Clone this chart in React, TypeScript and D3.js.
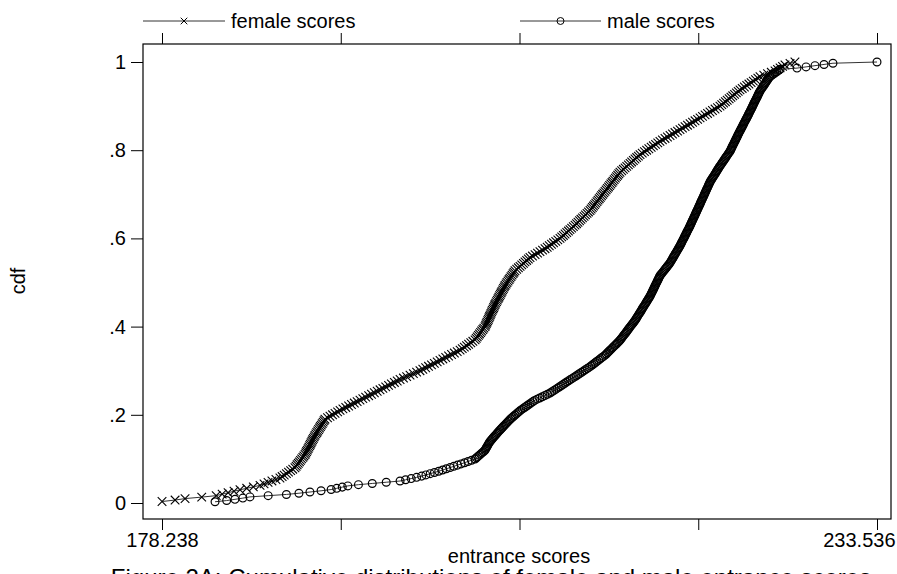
import { useEffect, useRef } from 'react';
import * as d3 from 'd3';

// sorted entrance scores
const femaleScores = [
  178.24, 179.25, 180.02, 181.31, 182.43, 182.89, 183.35, 183.81, 184.27,
  184.79, 185.30, 185.82,
  186.13, 186.44, 186.74, 187.05, 187.36,
  187.53, 187.69, 187.86, 188.02, 188.19, 188.35, 188.52,
  188.61, 188.69, 188.78, 188.87, 188.95, 189.04, 189.13, 189.21, 189.30,
  189.36, 189.42, 189.48, 189.54, 189.60, 189.66, 189.71, 189.77, 189.83, 189.89, 189.95, 190.01, 190.07,
  190.14, 190.21, 190.28, 190.35, 190.42, 190.49, 190.56, 190.63, 190.70, 190.77, 190.84,
  191.04, 191.23, 191.43, 191.62, 191.82, 192.01,
  192.23, 192.45, 192.67, 192.89, 193.11, 193.33, 193.55,
  193.77, 193.99, 194.22, 194.44, 194.66, 194.88, 195.10,
  195.32, 195.54, 195.76, 195.98, 196.21, 196.43, 196.65,
  196.91, 197.16, 197.42, 197.68, 197.93, 198.19,
  198.41, 198.63, 198.85, 199.08, 199.30, 199.52, 199.74,
  199.96, 200.18, 200.40, 200.63, 200.85, 201.07, 201.29,
  201.46, 201.62, 201.79, 201.95, 202.12, 202.28, 202.45,
  202.54, 202.62, 202.71, 202.79, 202.88, 202.96, 203.05, 203.13, 203.22,
  203.27, 203.32, 203.37, 203.43, 203.48, 203.53, 203.58, 203.63, 203.68, 203.73, 203.78, 203.84, 203.89, 203.94, 203.99,
  204.05, 204.11, 204.17, 204.23, 204.29, 204.35, 204.41, 204.47, 204.53, 204.59, 204.65, 204.71, 204.77,
  204.85, 204.92, 205.00, 205.08, 205.15, 205.23, 205.31, 205.39, 205.46, 205.54,
  205.67, 205.80, 205.93, 206.06, 206.19, 206.31, 206.44, 206.57, 206.70,
  206.89, 207.09, 207.28, 207.47, 207.67, 207.86,
  208.03, 208.19, 208.36, 208.52, 208.69, 208.85, 209.02,
  209.15, 209.28, 209.41, 209.54, 209.67, 209.79, 209.92, 210.05, 210.18,
  210.30, 210.41, 210.53, 210.64, 210.76, 210.88, 210.99, 211.11, 211.22, 211.34,
  211.43, 211.52, 211.61, 211.70, 211.79, 211.88, 211.96, 212.05, 212.14, 212.23, 212.32, 212.41, 212.50,
  212.59, 212.68, 212.77, 212.86, 212.95, 213.04, 213.12, 213.21, 213.30, 213.39, 213.48, 213.57, 213.66,
  213.79, 213.92, 214.05, 214.18, 214.31, 214.44, 214.56, 214.69, 214.82, 214.95, 215.08, 215.21,
  215.38, 215.55, 215.72, 215.89, 216.07, 216.24, 216.41, 216.58, 216.75,
  216.94, 217.14, 217.33, 217.53, 217.72, 217.91, 218.11, 218.30,
  218.49, 218.69, 218.88, 219.08, 219.27, 219.46, 219.66, 219.85,
  220.04, 220.24, 220.43, 220.62, 220.81, 221.01, 221.20, 221.39,
  221.53, 221.67, 221.81, 221.95, 222.10, 222.24, 222.38, 222.52, 222.66, 222.80, 222.94,
  223.11, 223.28, 223.46, 223.63, 223.80, 223.97, 224.14, 224.32, 224.49,
  224.78, 225.07, 225.36, 225.65,
  225.84, 226.04, 226.23, 226.42,
  226.81, 227.19
];

const maleScores = [
  182.34, 183.24, 183.88, 184.49, 185.04, 186.45, 187.86,
  188.83, 189.68, 190.54,
  191.32, 191.75, 192.18, 192.61,
  193.43, 194.50, 195.58, 196.65,
  197.08, 197.51, 197.93,
  198.32, 198.65, 198.98, 199.31, 199.64,
  199.94, 200.23, 200.52, 200.80, 201.09,
  201.37, 201.64, 201.91, 202.18, 202.45,
  202.56, 202.66, 202.77, 202.88, 202.98, 203.09, 203.20,
  203.26, 203.31, 203.37, 203.42, 203.47, 203.53, 203.58,
  203.66, 203.74, 203.82, 203.90, 203.99, 204.07, 204.15, 204.23, 204.31,
  204.40, 204.49, 204.58, 204.67, 204.76, 204.85, 204.94, 205.03, 205.12,
  205.21, 205.32, 205.43, 205.54, 205.65, 205.76, 205.87,
  205.98, 206.12, 206.25, 206.39, 206.52, 206.66, 206.79, 206.93, 207.06,
  207.25, 207.45, 207.65, 207.85, 208.05, 208.25,
  208.39, 208.54, 208.68, 208.82, 208.96, 209.11, 209.25, 209.39, 209.53, 209.68,
  209.82, 209.97, 210.11, 210.26, 210.40, 210.54, 210.69, 210.83, 210.97, 211.12, 211.26,
  211.39, 211.51, 211.64, 211.76, 211.88, 212.01, 212.13, 212.25, 212.38, 212.50,
  212.60, 212.69, 212.79, 212.88, 212.98, 213.07, 213.17, 213.26, 213.36, 213.45, 213.55, 213.64,
  213.72, 213.79, 213.86, 213.93, 214.00, 214.08, 214.15, 214.22, 214.29, 214.36, 214.43, 214.50, 214.58, 214.65, 214.72, 214.79,
  214.86, 214.92, 214.97, 215.03, 215.09, 215.15, 215.21, 215.27, 215.33, 215.38, 215.44, 215.50, 215.56, 215.62, 215.68, 215.73, 215.79, 215.85, 215.91, 215.97,
  216.02, 216.06, 216.11, 216.15, 216.20, 216.25, 216.29, 216.34, 216.38, 216.43, 216.47, 216.52, 216.56, 216.61, 216.66, 216.70, 216.75,
  216.82, 216.90, 216.97, 217.05, 217.12, 217.19, 217.27, 217.34, 217.42, 217.49,
  217.55, 217.61, 217.66, 217.72, 217.77, 217.83, 217.88, 217.94, 217.99, 218.05, 218.10, 218.16, 218.21, 218.27,
  218.32, 218.37, 218.42, 218.46, 218.51, 218.56, 218.61, 218.65, 218.70, 218.75, 218.80, 218.84, 218.89, 218.94, 218.99, 219.03,
  219.08, 219.12, 219.17, 219.21, 219.25, 219.30, 219.34, 219.38, 219.43, 219.47, 219.51, 219.56, 219.60, 219.64, 219.69, 219.73, 219.77, 219.82,
  219.86, 219.90, 219.94, 219.99, 220.03, 220.07, 220.12, 220.16, 220.20, 220.24, 220.29, 220.33, 220.37, 220.42, 220.46, 220.50, 220.54, 220.59,
  220.63, 220.69, 220.75, 220.81, 220.87, 220.93, 220.99, 221.05, 221.10, 221.16, 221.22, 221.28, 221.34,
  221.40, 221.47, 221.53, 221.59, 221.66, 221.72, 221.79, 221.85, 221.91, 221.98, 222.04, 222.11, 222.17,
  222.22, 222.26, 222.31, 222.35, 222.40, 222.45, 222.49, 222.54, 222.59, 222.63, 222.68, 222.73, 222.77, 222.82, 222.86, 222.91,
  222.96, 223.01, 223.06, 223.11, 223.16, 223.21, 223.25, 223.30, 223.35, 223.40, 223.45, 223.50, 223.55, 223.60, 223.64, 223.69,
  223.74, 223.78, 223.83, 223.88, 223.92, 223.97, 224.01, 224.06, 224.11, 224.15, 224.20, 224.25, 224.29, 224.34, 224.38, 224.43, 224.48,
  224.53, 224.60, 224.66, 224.73, 224.79, 224.86, 224.92, 224.98, 225.05, 225.11, 225.18, 225.24,
  225.37, 225.50, 225.64, 225.77, 225.91,
  226.04, 227.35, 228.05, 228.74, 229.44, 230.13, 233.536
];

const xDomain = [178.238, 233.536];
const xTicks = [178.238, 192.063, 205.887, 219.712, 233.536];
const xTickLabels = ['178.238', '', '', '', '233.536'];
const yTicks = [0, 0.2, 0.4, 0.6, 0.8, 1];
const yTickLabels = ['0', '.2', '.4', '.6', '.8', '1'];
const seriesNames = ['female scores', 'male scores'];

const FONT = "'Liberation Sans', Arial, Helvetica, sans-serif";

export default function App() {
  const svgRef = useRef<SVGSVGElement>(null);

  useEffect(() => {
    const svg = d3.select(svgRef.current);
    svg.selectAll('*').remove();

    const width = 897;
    const height = 574;
    const box = { left: 143, top: 44, right: 891, bottom: 519 };

    svg.attr('width', width).attr('height', height);

    const x = d3.scaleLinear().domain(xDomain).range([162, 877]);
    const y = d3.scaleLinear().domain([0, 1]).range([503, 62]);

    const toCdf = (scores: number[]) => {
      const s = scores.slice().sort((a, b) => a - b);
      return s.map((v, i) => ({ score: v, cdf: (i + 1) / s.length }));
    };
    const female = toCdf(femaleScores);
    const male = toCdf(maleScores);

    // plot region frame
    svg.append('rect')
      .attr('x', box.left)
      .attr('y', box.top)
      .attr('width', box.right - box.left)
      .attr('height', box.bottom - box.top)
      .attr('fill', 'white')
      .attr('stroke', '#000')
      .attr('stroke-width', 1.2);

    const styleAxis = (g: any) => {
      g.select('.domain').remove();
      g.selectAll('line').attr('stroke', '#000').attr('stroke-width', 1);
      g.selectAll('text')
        .attr('fill', '#000')
        .style('font-family', FONT)
        .style('font-size', '20px');
    };

    const bottomAxis = svg.append('g')
      .attr('transform', `translate(0,${box.bottom})`)
      .call(d3.axisBottom(x).tickValues(xTicks).tickSize(11).tickPadding(3)
        .tickFormat((d, i) => xTickLabels[i]))
      .call(styleAxis);
    // last label is pulled in so it stays inside the image
    bottomAxis.selectAll('.tick:last-of-type text')
      .attr('text-anchor', 'end')
      .attr('x', 895 - x(xTicks[xTicks.length - 1]));

    svg.append('g')
      .attr('transform', `translate(0,${box.top})`)
      .call(d3.axisTop(x).tickValues(xTicks).tickSize(11).tickFormat(() => ''))
      .call(styleAxis);

    svg.append('g')
      .attr('transform', `translate(${box.left},0)`)
      .call(d3.axisLeft(y).tickValues(yTicks).tickSize(12).tickPadding(5)
        .tickFormat((d, i) => yTickLabels[i]))
      .call(styleAxis);

    // axis titles
    svg.append('text')
      .attr('x', 519)
      .attr('y', 563)
      .attr('text-anchor', 'middle')
      .style('font-family', FONT)
      .style('font-size', '20px')
      .text('entrance scores');

    svg.append('text')
      .attr('transform', 'translate(25,281) rotate(-90)')
      .attr('text-anchor', 'middle')
      .style('font-family', FONT)
      .style('font-size', '20px')
      .text('cdf');

    const line = d3.line<any>().x(d => x(d.score)).y(d => y(d.cdf));
    const timesPath = d3.symbol().type(d3.symbolTimes).size(50)();
    const circlePath = d3.symbol().type(d3.symbolCircle).size(48)();
    const legendTimes = d3.symbol().type(d3.symbolTimes).size(30)();
    const legendCircle = d3.symbol().type(d3.symbolCircle).size(38)();

    const plot = svg.append('g');

    plot.append('path')
      .datum(female)
      .attr('d', line)
      .attr('fill', 'none')
      .attr('stroke', '#333')
      .attr('stroke-width', 1);
    plot.selectAll('.fem')
      .data(female)
      .join('path')
      .attr('class', 'fem')
      .attr('transform', d => `translate(${x(d.score)},${y(d.cdf)})`)
      .attr('d', timesPath)
      .attr('fill', 'none')
      .attr('stroke', '#000')
      .attr('stroke-width', 1.1);

    plot.append('path')
      .datum(male)
      .attr('d', line)
      .attr('fill', 'none')
      .attr('stroke', '#333')
      .attr('stroke-width', 1);
    plot.selectAll('.mal')
      .data(male)
      .join('path')
      .attr('class', 'mal')
      .attr('transform', d => `translate(${x(d.score)},${y(d.cdf)})`)
      .attr('d', circlePath)
      .attr('fill', 'none')
      .attr('stroke', '#000')
      .attr('stroke-width', 1.2);

    // legend above the plot
    const legend = [
      { x0: 143, x1: 225, text: seriesNames[0], symbol: legendTimes, tx: 231 },
      { x0: 520, x1: 601, text: seriesNames[1], symbol: legendCircle, tx: 607 }
    ];
    legend.forEach(l => {
      svg.append('line')
        .attr('x1', l.x0).attr('x2', l.x1)
        .attr('y1', 21).attr('y2', 21)
        .attr('stroke', '#333')
        .attr('stroke-width', 1);
      svg.append('path')
        .attr('transform', `translate(${(l.x0 + l.x1) / 2},21)`)
        .attr('d', l.symbol)
        .attr('fill', 'none')
        .attr('stroke', '#000');
      svg.append('text')
        .attr('x', l.tx)
        .attr('y', 28)
        .style('font-family', FONT)
        .style('font-size', '20px')
        .text(l.text);
    });

    // figure caption, cut by the bottom of the image as in the source
    svg.append('text')
      .attr('x', 491)
      .attr('y', 586)
      .attr('text-anchor', 'middle')
      .style('font-family', FONT)
      .style('font-size', '24px')
      .text('Figure 2A: Cumulative distributions of female and male entrance scores');
  }, []);

  return (
    <svg ref={svgRef} style={{ position: 'absolute', left: 0, top: 0, display: 'block' }}></svg>
  );
}
